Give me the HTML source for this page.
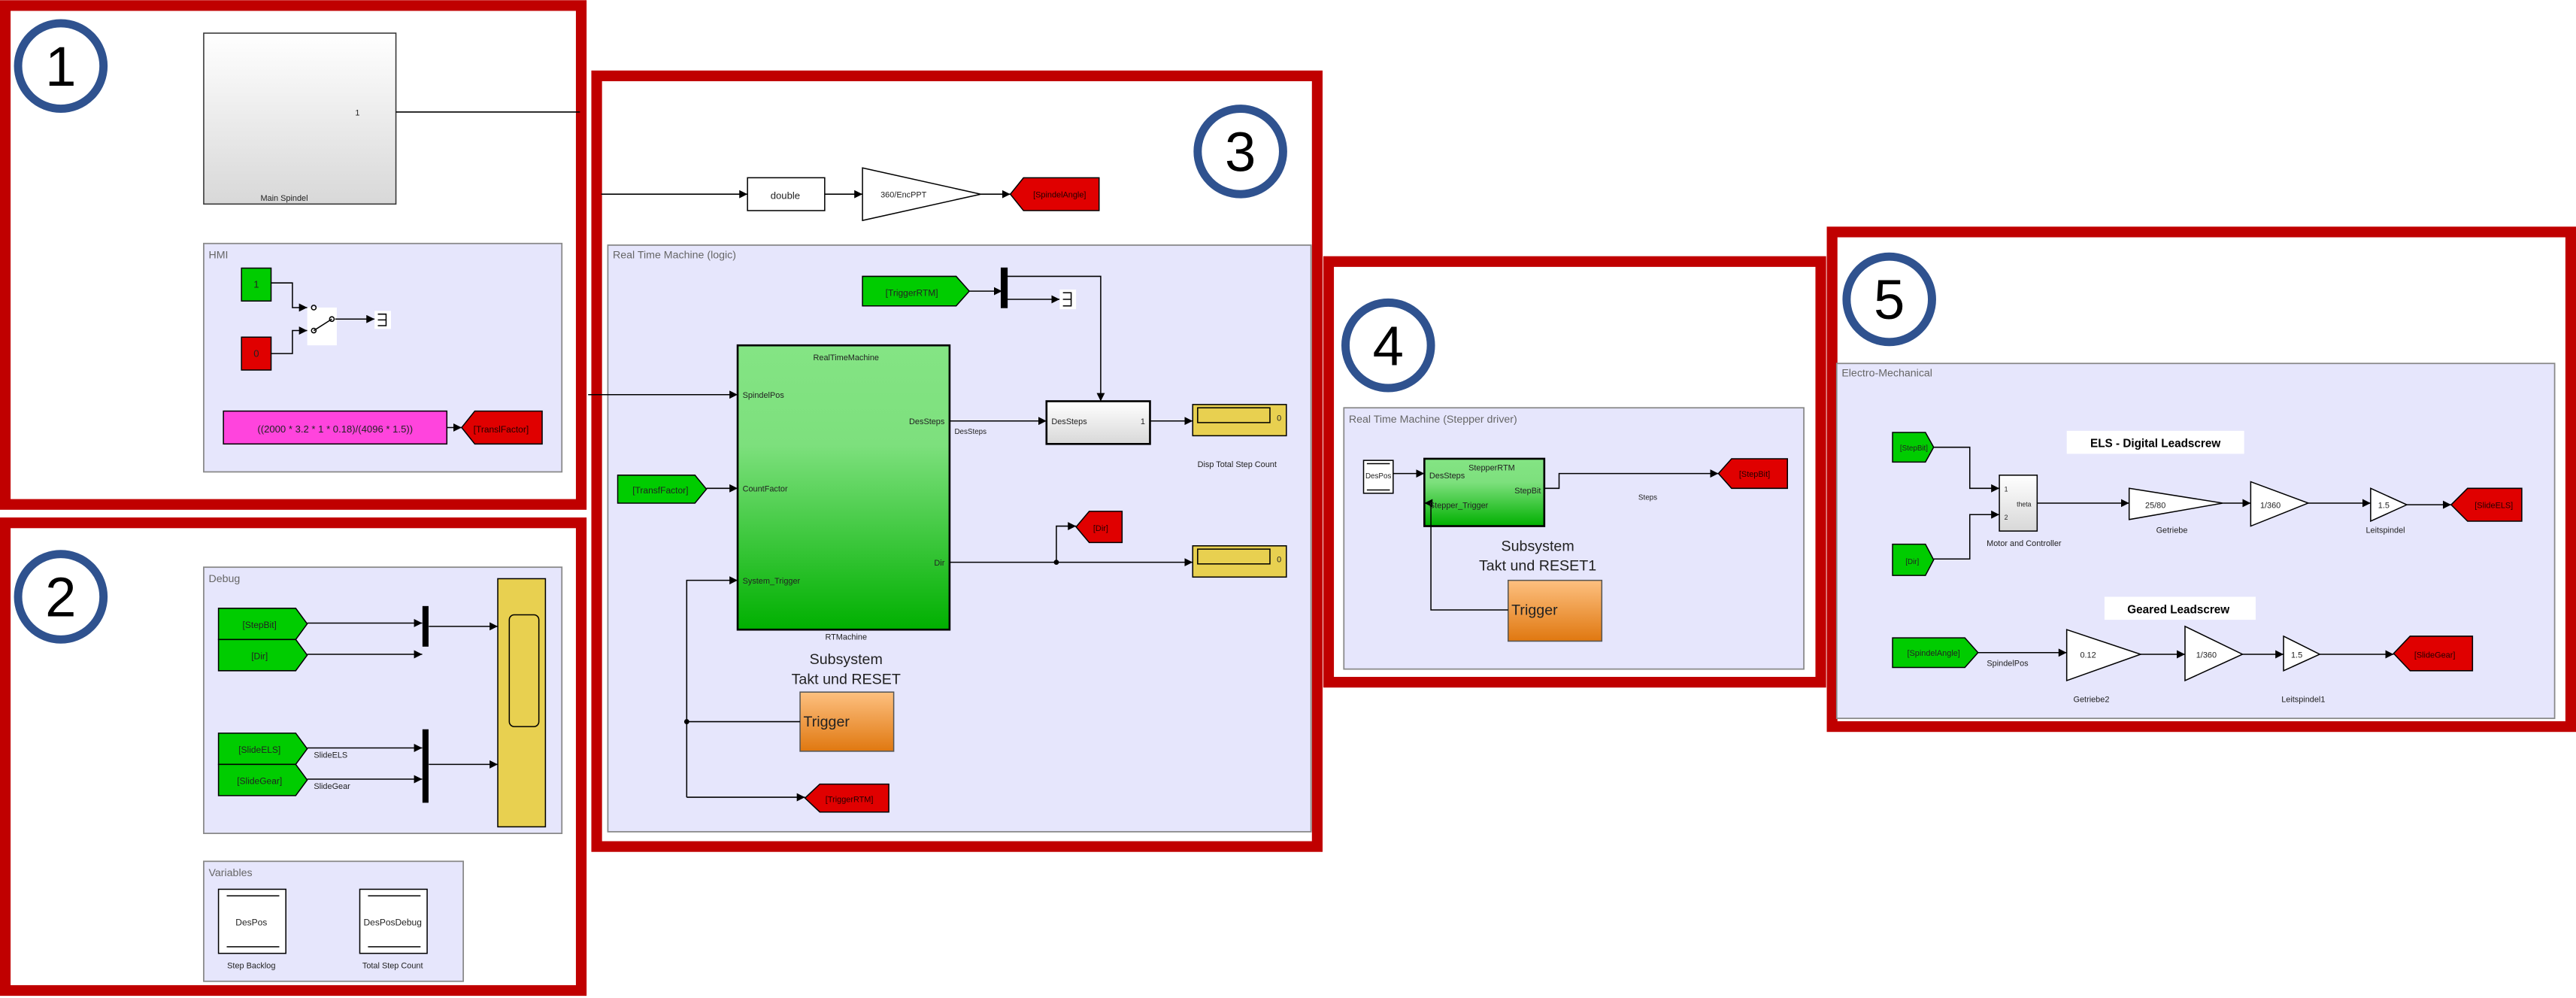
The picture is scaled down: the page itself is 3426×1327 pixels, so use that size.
<!DOCTYPE html>
<html><head><meta charset="utf-8"><style>
html,body{margin:0;padding:0;background:#fff;}
svg{display:block;}
text{font-family:"Liberation Sans",sans-serif;}
</style></head><body>
<svg width="3426" height="1327" viewBox="0 0 1568 607" xmlns="http://www.w3.org/2000/svg">
<defs>
<marker id="a" viewBox="0 0 10 10" refX="10" refY="5" markerWidth="5" markerHeight="5" orient="auto" markerUnits="userSpaceOnUse"><path d="M0,0L10,5L0,10z" fill="#000"/></marker>
<linearGradient id="gw" x1="0" y1="0" x2="0" y2="1"><stop offset="0" stop-color="#fff"/><stop offset="1" stop-color="#d8d8d8"/></linearGradient>
<linearGradient id="gg" x1="0" y1="0" x2="0" y2="1"><stop offset="0" stop-color="#84e484"/><stop offset="0.35" stop-color="#7de07d"/><stop offset="1" stop-color="#00b000"/></linearGradient>
<linearGradient id="go" x1="0" y1="0" x2="0" y2="1"><stop offset="0" stop-color="#fdc080"/><stop offset="1" stop-color="#e07810"/></linearGradient>
</defs>
<rect width="1568" height="607" fill="#fff"/>
<g fill="none" stroke="#c00000" stroke-width="6.5">
<rect x="3.2" y="3.2" width="350.6" height="303.6"/>
<rect x="3.2" y="318" width="350.6" height="284.6"/>
<rect x="363.2" y="46" width="438.6" height="469"/>
<rect x="808.7" y="159" width="299.6" height="256"/>
<rect x="1115.2" y="141" width="449.6" height="301"/>
</g>
<g fill="#fff" stroke="#2f528f" stroke-width="5">
<ellipse cx="37" cy="40" rx="26" ry="26"/>
<ellipse cx="37" cy="363" rx="26" ry="26"/>
<ellipse cx="755" cy="92" rx="26" ry="26"/>
<ellipse cx="845" cy="210" rx="26" ry="26"/>
<ellipse cx="1150" cy="182" rx="26" ry="26"/>
</g>
<g font-family="Liberation Sans,sans-serif" font-size="34" text-anchor="middle" fill="#000">
<text x="37" y="52">1</text><text x="37" y="375">2</text><text x="755" y="104">3</text><text x="845" y="222">4</text><text x="1150" y="194">5</text>
</g>
<g fill="#e6e6fc" stroke="#888" stroke-width="0.8">
<rect x="124" y="148" width="218" height="139"/>
<rect x="124" y="345" width="218" height="162"/>
<rect x="124" y="524" width="158" height="73"/>
<rect x="370" y="149" width="428" height="357"/>
<rect x="818" y="248" width="280" height="159"/>
<rect x="1118" y="221" width="437" height="216"/>
</g>
<g font-size="6.5" fill="#666">
<text x="127" y="157">HMI</text><text x="127" y="354">Debug</text><text x="127" y="533">Variables</text>
<text x="373" y="157">Real Time Machine (logic)</text><text x="821" y="257">Real Time Machine (Stepper driver)</text><text x="1121" y="229">Electro-Mechanical</text>
</g>
<g stroke="#000" stroke-width="0.7" fill="none">
<rect x="124" y="20" width="117" height="104" fill="url(#gw)" stroke="#333"/>
<line x1="241" y1="68" x2="353" y2="68"/>
<rect x="147" y="163" width="18" height="20" fill="#00cc00"/>
<rect x="147" y="205" width="18" height="20" fill="#e00000"/>
<rect x="187" y="187" width="18" height="23" fill="#fff" stroke="none"/>
<polyline points="165,172 178,172 178,187 187,187" marker-end="url(#a)"/>
<polyline points="165,215 178,215 178,201 187,201" marker-end="url(#a)"/>
<circle cx="191" cy="187" r="1.4"/><circle cx="191" cy="201" r="1.4"/><circle cx="202" cy="194" r="1.4"/><line x1="191" y1="201" x2="202" y2="194"/>
<line x1="204" y1="194" x2="228" y2="194" marker-end="url(#a)"/>
<rect x="228" y="189" width="10" height="11" fill="#fff" stroke="none"/>
<path d="M230,191h5v7h-5M230,194.5h5"/>
<rect x="136" y="250" width="136" height="20" fill="#ff44dd"/>
<line x1="272" y1="260" x2="281" y2="260" marker-end="url(#a)"/>
<polygon points="289,250 330,250 330,270 289,270 281,260" fill="#e00000"/>
<polygon points="133,370 180,370 187,379.5 180,389 133,389" fill="#00cc00"/>
<polygon points="133,389 180,389 187,398.5 180,408 133,408" fill="#00cc00"/>
<polygon points="133,446 180,446 187,455.5 180,465 133,465" fill="#00cc00"/>
<polygon points="133,465 180,465 187,474.5 180,484 133,484" fill="#00cc00"/>
<line x1="187" y1="379" x2="257" y2="379" marker-end="url(#a)"/>
<line x1="187" y1="398" x2="257" y2="398" marker-end="url(#a)"/>
<line x1="187" y1="455" x2="257" y2="455" marker-end="url(#a)"/>
<line x1="187" y1="474" x2="257" y2="474" marker-end="url(#a)"/>
<rect x="257.5" y="369" width="3" height="24" fill="#000"/>
<rect x="257.5" y="444" width="3" height="44" fill="#000"/>
<line x1="261" y1="381" x2="303" y2="381" marker-end="url(#a)"/>
<line x1="261" y1="465" x2="303" y2="465" marker-end="url(#a)"/>
<rect x="303" y="352" width="29" height="151" fill="#e8d050"/>
<rect x="310" y="374" width="18" height="68" rx="3" fill="#e8d050"/>
<rect x="133" y="541" width="41" height="39" fill="#fff"/><rect x="219" y="541" width="41" height="39" fill="#fff"/>
<path d="M138,545h32M138,576h32M224,545h32M224,576h32"/>
<line x1="366" y1="118" x2="455" y2="118" marker-end="url(#a)"/>
<rect x="455" y="108" width="47" height="20" fill="#fff"/>
<line x1="502" y1="118" x2="525" y2="118" marker-end="url(#a)"/>
<polygon points="525,102 597,118 525,134" fill="#fff"/>
<line x1="597" y1="118" x2="615" y2="118" marker-end="url(#a)"/>
<polygon points="623,108 669,108 669,128 623,128 615,118" fill="#e00000"/>
<line x1="358" y1="240" x2="449" y2="240" marker-end="url(#a)"/>
<polygon points="525,168 582,168 590,177 582,186 525,186" fill="#00cc00"/>
<line x1="590" y1="177" x2="610" y2="177" marker-end="url(#a)"/>
<rect x="609.5" y="163" width="3.5" height="24" fill="#000"/>
<line x1="613" y1="182" x2="645" y2="182" marker-end="url(#a)"/>
<rect x="645" y="176" width="10" height="12" fill="#fff" stroke="none"/>
<path d="M647,178h5v8h-5M647,182h5"/>
<polyline points="613,168 670,168 670,244" marker-end="url(#a)"/>
<rect x="449" y="210" width="129" height="173" fill="url(#gg)" stroke-width="1.2"/>
<polygon points="376,289 423,289 430,297.5 423,306 376,306" fill="#00cc00"/>
<line x1="430" y1="297" x2="449" y2="297" marker-end="url(#a)"/>
<line x1="578" y1="256" x2="637" y2="256" marker-end="url(#a)"/>
<rect x="637" y="244" width="63" height="26" fill="url(#gw)" stroke-width="1.2"/>
<line x1="700" y1="256" x2="726" y2="256" marker-end="url(#a)"/>
<rect x="726" y="246" width="57" height="19" fill="#e8d050"/><rect x="729" y="248" width="44" height="9" fill="#e8d050"/>
<line x1="578" y1="342" x2="726" y2="342" marker-end="url(#a)"/>
<polyline points="643,342 643,320 655,320" marker-end="url(#a)"/>
<circle cx="643" cy="342" r="1.2" fill="#000"/>
<polygon points="663,311 683,311 683,330 663,330 655,320.5" fill="#e00000"/>
<rect x="726" y="332" width="57" height="19" fill="#e8d050"/><rect x="729" y="334" width="44" height="9" fill="#e8d050"/>
<rect x="487" y="421" width="57" height="36" fill="url(#go)" stroke="#555"/>
<polyline points="487,439 418,439"/>
<polyline points="418,485 418,353 449,353" marker-end="url(#a)"/>
<circle cx="418" cy="439" r="1.2" fill="#000"/>
<line x1="418" y1="485" x2="490" y2="485" marker-end="url(#a)"/>
<polygon points="499,477 541,477 541,494 499,494 490,485.5" fill="#e00000"/>
<rect x="830" y="280" width="18" height="20" fill="#fff"/><path d="M832,282h14M832,298h14"/>
<line x1="848" y1="288" x2="867" y2="288" marker-end="url(#a)"/>
<rect x="867" y="279" width="73" height="41" fill="url(#gg)" stroke-width="1.2"/>
<polyline points="940,297 949,297 949,288 1046,288" marker-end="url(#a)"/>
<polygon points="1054,279 1088,279 1088,297 1054,297 1046,288" fill="#e00000"/>
<rect x="918" y="353" width="57" height="37" fill="url(#go)" stroke="#555"/>
<polyline points="918,371 871,371 871,306 867,306" marker-end="url(#a)"/>
<polygon points="1152,263 1172,263 1177,272 1172,281 1152,281" fill="#00cc00"/>
<polygon points="1152,331 1172,331 1177,340.5 1172,350 1152,350" fill="#00cc00"/>
<polyline points="1177,272 1199,272 1199,297 1217,297" marker-end="url(#a)"/>
<polyline points="1177,340 1199,340 1199,313 1217,313" marker-end="url(#a)"/>
<rect x="1217" y="289" width="23" height="34" fill="url(#gw)"/>
<line x1="1240" y1="306" x2="1296" y2="306" marker-end="url(#a)"/>
<polygon points="1296,297 1353,306 1296,316" fill="#fff"/>
<line x1="1353" y1="306" x2="1370" y2="306" marker-end="url(#a)"/>
<polygon points="1370,293 1405,306 1370,320" fill="#fff"/>
<line x1="1405" y1="306" x2="1443" y2="306" marker-end="url(#a)"/>
<polygon points="1443,297 1465,307 1443,317" fill="#fff"/>
<line x1="1465" y1="307" x2="1492" y2="307" marker-end="url(#a)"/>
<polygon points="1502,297 1535,297 1535,317 1502,317 1492,307" fill="#e00000"/>
<polygon points="1152,388 1196,388 1204,397 1196,406 1152,406" fill="#00cc00"/>
<line x1="1204" y1="397" x2="1258" y2="397" marker-end="url(#a)"/>
<polygon points="1258,383 1303,398 1258,414" fill="#fff"/>
<line x1="1303" y1="398" x2="1330" y2="398" marker-end="url(#a)"/>
<polygon points="1330,381 1365,398 1330,414" fill="#fff"/>
<line x1="1365" y1="398" x2="1390" y2="398" marker-end="url(#a)"/>
<polygon points="1390,387 1412,398 1390,408" fill="#fff"/>
<line x1="1412" y1="398" x2="1457" y2="398" marker-end="url(#a)"/>
<polygon points="1467,387 1505,387 1505,408 1467,408 1457,397.5" fill="#e00000"/>
</g>
<rect x="1258" y="262" width="108" height="14" fill="#fff"/>
<rect x="1281" y="363" width="92" height="14" fill="#fff"/>
<g font-size="5" fill="#222" text-anchor="middle">
<text x="173" y="122">Main Spindel</text><text x="219" y="70" text-anchor="end">1</text>
<text x="156" y="175" font-size="6">1</text><text x="156" y="217" font-size="6">0</text>
<text x="204" y="263" font-size="6">((2000 * 3.2 * 1 * 0.18)/(4096 * 1.5))</text>
<text x="305" y="263" font-size="5.5" fill="#200">[TranslFactor]</text>
<text x="158" y="382" font-size="5.5">[StepBit]</text><text x="158" y="401" font-size="5.5">[Dir]</text>
<text x="158" y="458" font-size="5.5">[SlideELS]</text><text x="158" y="477" font-size="5.5">[SlideGear]</text>
<text x="191" y="461" text-anchor="start">SlideELS</text><text x="191" y="480" text-anchor="start">SlideGear</text>
<text x="153" y="563" font-size="5.5">DesPos</text><text x="239" y="563" font-size="5.5">DesPosDebug</text>
<text x="153" y="589">Step Backlog</text><text x="239" y="589">Total Step Count</text>
<text x="478" y="121" font-size="6">double</text><text x="550" y="120">360/EncPPT</text>
<text x="645" y="120" fill="#200">[SpindelAngle]</text>
<text x="555" y="180" font-size="5.5">[TriggerRTM]</text>
<text x="515" y="219">RealTimeMachine</text>
<text x="452" y="242" text-anchor="start">SpindelPos</text><text x="452" y="299" text-anchor="start">CountFactor</text><text x="452" y="355" text-anchor="start">System_Trigger</text>
<text x="575" y="258" text-anchor="end">DesSteps</text><text x="575" y="344" text-anchor="end">Dir</text>
<text x="581" y="264" text-anchor="start" font-size="4.5">DesSteps</text>
<text x="402" y="300" font-size="5.5">[TransfFactor]</text>
<text x="640" y="258" text-anchor="start">DesSteps</text><text x="697" y="258" text-anchor="end">1</text>
<text x="780" y="256" text-anchor="end">0</text><text x="780" y="342" text-anchor="end">0</text>
<text x="753" y="284">Disp Total Step Count</text>
<text x="670" y="323" fill="#200">[Dir]</text>
<text x="515" y="389">RTMachine</text>
<text x="515" y="404" font-size="9">Subsystem</text><text x="515" y="416" font-size="9">Takt und RESET</text>
<text x="489" y="442" font-size="9" text-anchor="start">Trigger</text>
<text x="517" y="488" fill="#200">[TriggerRTM]</text>
<text x="839" y="291" font-size="4.5">DesPos</text>
<text x="908" y="286">StepperRTM</text>
<text x="870" y="291" text-anchor="start">DesSteps</text><text x="870" y="309" text-anchor="start">Stepper_Trigger</text>
<text x="938" y="300" text-anchor="end">StepBit</text><text x="1003" y="304" font-size="4.5">Steps</text>
<text x="1068" y="290" fill="#200">[StepBit]</text>
<text x="936" y="335" font-size="9">Subsystem</text><text x="936" y="347" font-size="9">Takt und RESET1</text>
<text x="920" y="374" font-size="9" text-anchor="start">Trigger</text>
<text x="1165" y="274" font-size="4.5">[StepBit]</text><text x="1164" y="343" font-size="4.5">[Dir]</text>
<text x="1312" y="272" font-size="7" font-weight="bold" fill="#000">ELS - Digital Leadscrew</text>
<text x="1220" y="299" text-anchor="start" font-size="4">1</text><text x="1220" y="316" text-anchor="start" font-size="4">2</text><text x="1232" y="308" font-size="4">theta</text>
<text x="1232" y="332">Motor and Controller</text>
<text x="1312" y="309">25/80</text><text x="1382" y="309">1/360</text><text x="1451" y="309">1.5</text>
<text x="1322" y="324">Getriebe</text><text x="1452" y="324">Leitspindel</text>
<text x="1518" y="309" fill="#200">[SlideELS]</text>
<text x="1326" y="373" font-size="7" font-weight="bold" fill="#000">Geared Leadscrew</text>
<text x="1177" y="399" font-size="5">[SpindelAngle]</text><text x="1222" y="405">SpindelPos</text>
<text x="1271" y="400">0.12</text><text x="1343" y="400">1/360</text><text x="1398" y="400">1.5</text>
<text x="1273" y="427">Getriebe2</text><text x="1402" y="427">Leitspindel1</text>
<text x="1482" y="400" fill="#200">[SlideGear]</text>
</g>
</svg>
</body></html>
